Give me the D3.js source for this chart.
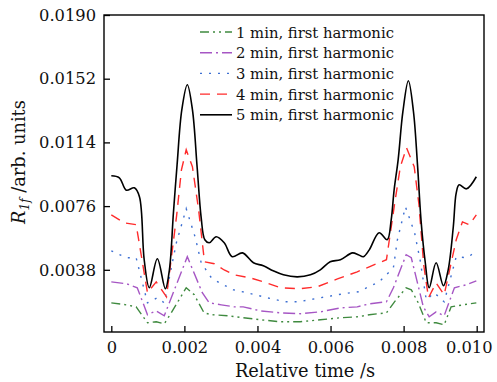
<!DOCTYPE html>
<html>
<head>
<meta charset="utf-8">
<style>
  body { margin: 0; background: white; }
  svg { display: block; }
  svg text { font-family: "DejaVu Serif", serif; fill: #111; }
</style>
</head>
<body>
<svg id="chart" width="497" height="382"></svg>
<script src="https://cdnjs.cloudflare.com/ajax/libs/d3/7.8.5/d3.min.js"></script>
<script>
// relative time in ms, value in arb. units
const t1 = [0, 0.41, 0.68, 0.99, 1.23, 1.45, 1.64, 2.05, 2.27, 2.54, 2.74, 3.18, 3.61, 4.08, 4.63, 5.17, 5.72, 6.27, 6.76, 7.06, 7.53, 7.75, 8.07, 8.21, 8.40, 8.62, 8.89, 9.11, 9.30, 9.63, 9.99];
const v1 = [0.00183, 0.00171, 0.00159, 0.00064, 0.00070, 0.00058, 0.00123, 0.00273, 0.00231, 0.00123, 0.00112, 0.00106, 0.00094, 0.00082, 0.00070, 0.00070, 0.00082, 0.00094, 0.00100, 0.00112, 0.00123, 0.00189, 0.00273, 0.00261, 0.00183, 0.00064, 0.00064, 0.00052, 0.00159, 0.00171, 0.00183];

const t2 = [0, 0.41, 0.71, 0.99, 1.23, 1.45, 2.08, 2.49, 2.68, 3.01, 3.37, 3.61, 4.08, 4.63, 5.17, 5.72, 6.27, 6.73, 7.06, 7.53, 7.72, 8.07, 8.21, 8.54, 8.70, 8.89, 9.11, 9.39, 9.72, 9.99];
const v2 = [0.00308, 0.00297, 0.00273, 0.00112, 0.00135, 0.00106, 0.00458, 0.00243, 0.00183, 0.00171, 0.00159, 0.00159, 0.00135, 0.00123, 0.00118, 0.00129, 0.00153, 0.00159, 0.00177, 0.00189, 0.00273, 0.00470, 0.00452, 0.00159, 0.00100, 0.00129, 0.00106, 0.00273, 0.00291, 0.00314];

const t3 = [0, 0.41, 0.68, 0.99, 1.26, 1.45, 1.78, 2.05, 2.30, 2.46, 2.74, 2.96, 3.34, 3.72, 4.27, 4.76, 5.12, 5.72, 6.35, 6.76, 7.33, 7.72, 7.83, 8.05, 8.30, 8.45, 8.62, 8.84, 9.11, 9.44, 9.72, 9.99];
const v3 = [0.00493, 0.00452, 0.00452, 0.00183, 0.00213, 0.00183, 0.00541, 0.00744, 0.00571, 0.00422, 0.00332, 0.00302, 0.00261, 0.00243, 0.00213, 0.00189, 0.00189, 0.00213, 0.00237, 0.00249, 0.00308, 0.00392, 0.00559, 0.00756, 0.00601, 0.00440, 0.00201, 0.00243, 0.00189, 0.00458, 0.00452, 0.00487];

const t4 = [0, 0.36, 0.68, 0.99, 1.23, 1.51, 1.79, 1.92, 2.05, 2.22, 2.39, 2.55, 2.82, 3.09, 3.37, 3.80, 4.16, 4.63, 5.17, 5.64, 6.19, 6.73, 7.06, 7.53, 7.75, 7.91, 8.08, 8.29, 8.42, 8.55, 8.68, 8.89, 9.11, 9.44, 9.61, 9.80, 9.99];
const v4 = [0.00708, 0.00660, 0.00649, 0.00243, 0.00308, 0.00219, 0.00708, 0.00977, 0.01096, 0.00995, 0.00737, 0.00428, 0.00416, 0.00379, 0.00350, 0.00332, 0.00308, 0.00273, 0.00267, 0.00279, 0.00326, 0.00368, 0.00398, 0.00440, 0.00768, 0.00995, 0.01108, 0.00995, 0.00768, 0.00410, 0.00213, 0.00302, 0.00231, 0.00559, 0.00666, 0.00649, 0.00708];

const t5 = [0, 0.22, 0.41, 0.63, 0.77, 0.90, 1.04, 1.26, 1.48, 1.59, 1.70, 1.80, 1.93, 2.08, 2.22, 2.35, 2.46, 2.56, 2.68, 2.87, 3.09, 3.31, 3.59, 3.89, 4.16, 4.43, 4.71, 5.09, 5.45, 5.72, 5.99, 6.27, 6.60, 6.76, 6.90, 7.06, 7.33, 7.55, 7.66, 7.74, 7.85, 7.98, 8.13, 8.27, 8.38, 8.48, 8.59, 8.70, 8.89, 9.09, 9.22, 9.36, 9.44, 9.52, 9.72, 9.99];
const v5 = [0.00941, 0.00929, 0.00855, 0.00869, 0.00816, 0.00440, 0.00273, 0.00446, 0.00267, 0.00380, 0.00720, 0.01006, 0.01335, 0.01484, 0.01335, 0.00989, 0.00690, 0.00559, 0.00541, 0.00577, 0.00541, 0.00458, 0.00481, 0.00422, 0.00404, 0.00374, 0.00350, 0.00338, 0.00350, 0.00380, 0.00428, 0.00440, 0.00481, 0.00470, 0.00458, 0.00499, 0.00601, 0.00559, 0.00678, 0.00856, 0.01036, 0.01323, 0.01508, 0.01323, 0.01006, 0.00666, 0.00428, 0.00273, 0.00422, 0.00285, 0.00380, 0.00637, 0.00839, 0.00887, 0.00863, 0.00935];

const names = ["1 min, first harmonic", "2 min, first harmonic", "3 min, first harmonic", "4 min, first harmonic", "5 min, first harmonic"];
const xTicks = [0, 0.002, 0.004, 0.006, 0.008, 0.010];
const yTicks = [0.0038, 0.0076, 0.0114, 0.0152, 0.0190];

const FONT = '"DejaVu Serif", serif';

const series = [
  { name: names[0], t: t1, v: v1, color: "#3f8a3f", dash: "9,4,2,4,2,4", curve: d3.curveLinear },
  { name: names[1], t: t2, v: v2, color: "#a656c4", dash: "12,4,2,4", curve: d3.curveLinear },
  { name: names[2], t: t3, v: v3, color: "#3d6fd2", dash: "2,7", curve: d3.curveLinear },
  { name: names[3], t: t4, v: v4, color: "#ff2b2b", dash: "10,7", curve: d3.curveLinear },
  { name: names[4], t: t5, v: v5, color: "#000", dash: null, curve: d3.curveCatmullRom.alpha(0.5) }
];

const svg = d3.select("#chart").attr("font-family", FONT);
const pLeft = 104, pRight = 484, pTop = 15, pBottom = 332;

const x = d3.scaleLinear().domain([-0.0002, 0.0102]).range([pLeft, pRight]);
const y = d3.scaleLinear().domain([0, 0.019]).range([333.5, pTop]);

svg.append("clipPath").attr("id", "clip")
  .append("rect").attr("x", pLeft).attr("y", pTop).attr("width", pRight - pLeft).attr("height", pBottom - pTop);

// axes (ticks point inward)
const xAxis = svg.append("g").attr("transform", `translate(0,${pBottom})`)
  .call(d3.axisBottom(x).tickValues(xTicks).tickSize(-6).tickPadding(9)
    .tickFormat(d => d === 0 ? "0" : d3.format(".3f")(d)));
const yAxis = svg.append("g").attr("transform", `translate(${pLeft},0)`)
  .call(d3.axisLeft(y).tickValues(yTicks).tickSize(-6).tickPadding(8)
    .tickFormat(d3.format(".4f")));
[xAxis, yAxis].forEach(g => {
  g.attr("font-family", FONT).attr("font-size", 16.3);
  g.select(".domain").remove();
  g.selectAll("line").attr("stroke", "#000").attr("stroke-width", 1.3);
  g.selectAll("text").attr("fill", "#111");
});
// last x label is pulled in so it stays on the page
xAxis.selectAll(".tick text").filter(d => d === xTicks[xTicks.length - 1]).attr("dx", -8);

// curves
const line = d3.line().x(d => x(d[0] / 1000)).y(d => y(d[1]));
const plot = svg.append("g").attr("clip-path", "url(#clip)");
series.forEach(s => {
  plot.append("path")
    .datum(s.t.map((t, i) => [t, s.v[i]]))
    .attr("fill", "none")
    .attr("stroke", s.color)
    .attr("stroke-width", s.dash ? 1.4 : 1.6)
    .attr("stroke-dasharray", s.dash)
    .attr("d", line.curve(s.curve));
});

// frame
svg.append("rect").attr("x", pLeft).attr("y", pTop)
  .attr("width", pRight - pLeft).attr("height", pBottom - pTop)
  .attr("fill", "none").attr("stroke", "#000").attr("stroke-width", 1.4);

// legend
const lg = svg.append("g");
series.forEach((s, i) => {
  const ly = 32 + i * 20.7;
  lg.append("line").attr("x1", 200).attr("x2", 232).attr("y1", ly).attr("y2", ly)
    .attr("stroke", s.color).attr("stroke-width", s.dash ? 1.4 : 1.6)
    .attr("stroke-dasharray", s.dash);
  lg.append("text").attr("x", 236).attr("y", ly + 5.5).attr("font-size", 14.8).text(s.name);
});

// axis titles
svg.append("text").attr("x", 305).attr("y", 377).attr("text-anchor", "middle")
  .attr("font-size", 17.8).text("Relative time /s");

const yl = svg.append("text").attr("transform", "translate(25,162) rotate(-90)")
  .attr("text-anchor", "middle").attr("font-size", 17.8);
yl.append("tspan").attr("font-style", "italic").text("R");
yl.append("tspan").attr("font-style", "italic").attr("font-size", 12).attr("dy", 4).text("1f");
yl.append("tspan").attr("dy", -4).text(" /arb. units");
</script>
</body>
</html>
